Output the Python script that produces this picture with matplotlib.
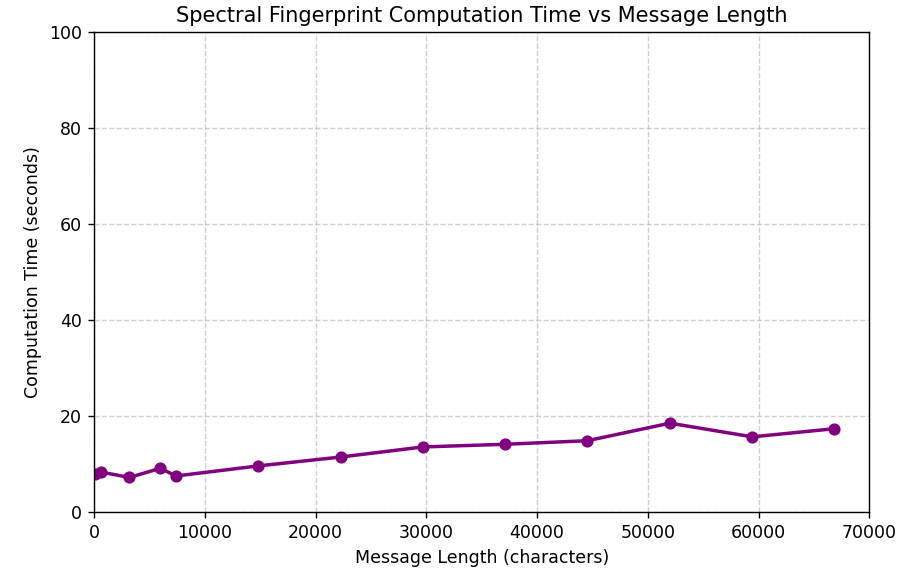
import matplotlib
matplotlib.use('Agg')
import matplotlib.pyplot as plt

msg_len = [50, 650, 3200, 6000, 7400, 14850, 22280, 29700, 37100, 44550, 52000, 59440, 66850]
comp_time = [7.9, 8.3, 7.2, 9.1, 7.5, 9.6, 11.45, 13.55, 14.1, 14.85, 18.5, 15.65, 17.35]

# rendered at 125 dpi so text and lines come out at the reference's scale
fig = plt.figure(figsize=(917 / 125, 573 / 125), dpi=125)
ax = fig.add_axes([0.1025, 0.1065, 0.8455, 0.8377])
ax.plot(msg_len, comp_time, marker='o', color='purple', linewidth=2, markersize=6)
ax.set_xlim(0, 70000)
ax.set_ylim(0, 100)
ax.set_title('Spectral Fingerprint Computation Time vs Message Length')
ax.set_xlabel('Message Length (characters)')
ax.set_ylabel('Computation Time (seconds)')
ax.grid(True, linestyle='--', alpha=0.6)
fig.savefig('out.png', dpi=125)
